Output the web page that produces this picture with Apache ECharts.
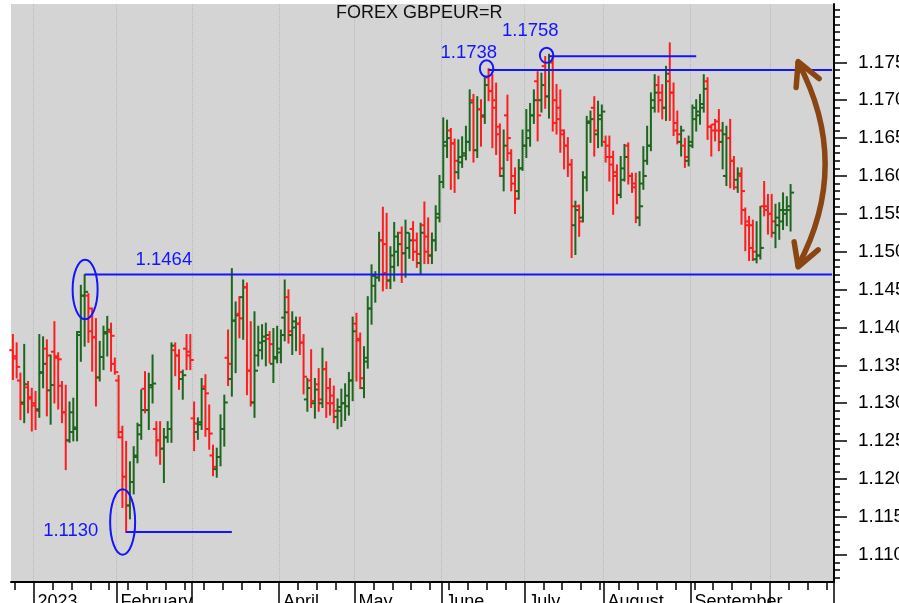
<!DOCTYPE html>
<html><head><meta charset="utf-8">
<script src="https://cdn.jsdelivr.net/npm/echarts@6/dist/echarts.min.js"></script>
<style>html,body{margin:0;padding:0;background:#fff;overflow:hidden}#c{width:899px;height:603px}</style>
</head><body><div id="c"></div>
<script>
// ---------- data (GBPEUR daily bars, Dec 23 2022 .. Oct 9 2023) ----------
const opens = [
1.1370,1.1362,1.1330,1.1301,1.1321,1.1308,1.1300,1.1292,1.1340,1.1372,
1.1317,1.1368,1.1362,1.1323,1.1288,1.1251,1.1262,1.1266,1.1394,1.1442,
1.1442,1.1395,1.1387,1.1334,1.1361,1.1392,1.1394,1.1352,1.1330,1.1255,
1.1203,1.1165,1.1196,1.1229,1.1271,1.1319,1.1291,1.1321,1.1266,1.1251,
1.1240,1.1255,1.1266,1.1370,1.1363,1.1332,1.1372,1.1368,1.1280,1.1262,
1.1275,1.1322,1.1266,1.1231,1.1213,1.1229,1.1266,1.1360,1.1332,1.1409,
1.1418,1.1440,1.1453,1.1343,1.1301,1.1363,1.1380,1.1382,1.1385,1.1352,
1.1359,1.1372,1.1413,1.1440,1.1390,1.1400,1.1405,1.1380,1.1305,1.1330,
1.1300,1.1325,1.1300,1.1345,1.1320,1.1310,1.1282,1.1290,1.1300,1.1296,
1.1330,1.1405,1.1385,1.1320,1.1355,1.1425,1.1455,1.1466,1.1515,1.1510,
1.1462,1.1480,1.1500,1.1525,1.1498,1.1505,1.1530,1.1515,1.1485,1.1535,
1.1520,1.1495,1.1515,1.1550,1.1592,1.1640,1.1660,1.1643,1.1605,1.1618,
1.1627,1.1645,1.1700,1.1634,1.1688,1.1680,1.1730,1.1712,1.1700,1.1665,
1.1600,1.1680,1.1630,1.1600,1.1580,1.1610,1.1640,1.1650,1.1680,1.1725,
1.1700,1.1745,1.1705,1.1750,1.1700,1.1690,1.1655,1.1640,1.1615,1.1535,
1.1560,1.1545,1.1598,1.1670,1.1690,1.1655,1.1675,1.1645,1.1640,1.1625,
1.1600,1.1575,1.1595,1.1640,1.1600,1.1590,1.1545,1.1590,1.1620,1.1640,
1.1690,1.1720,1.1710,1.1690,1.1725,1.1710,1.1670,1.1645,1.1640,1.1620,
1.1645,1.1675,1.1680,1.1695,1.1725,1.1665,1.1668,1.1672,1.1645,1.1600,
1.1650,1.1620,1.1595,1.1600,1.1555,1.1540,1.1535,1.1490,1.1495,1.1560,
1.1560,1.1550,1.1525,1.1535,1.1540,1.1550,1.1555];
const highs = [
1.1390,1.1379,1.1339,1.1377,1.1328,1.1319,1.1315,1.1390,1.1387,1.1383,
1.1363,1.1407,1.1366,1.1328,1.1323,1.1301,1.1306,1.1394,1.1455,1.1469,
1.1444,1.1425,1.1411,1.1381,1.1401,1.1414,1.1405,1.1359,1.1336,1.1269,
1.1249,1.1222,1.1242,1.1273,1.1317,1.1341,1.1339,1.1363,1.1275,1.1275,
1.1266,1.1275,1.1379,1.1379,1.1370,1.1343,1.1390,1.1390,1.1301,1.1280,
1.1332,1.1337,1.1297,1.1244,1.1240,1.1284,1.1310,1.1396,1.1477,1.1433,
1.1440,1.1462,1.1458,1.1407,1.1420,1.1401,1.1403,1.1405,1.1394,1.1398,
1.1401,1.1396,1.1462,1.1449,1.1420,1.1413,1.1413,1.1390,1.1332,1.1370,
1.1332,1.1345,1.1372,1.1354,1.1332,1.1322,1.1305,1.1318,1.1325,1.1340,
1.1413,1.1418,1.1392,1.1374,1.1440,1.1482,1.1473,1.1525,1.1558,1.1550,
1.1506,1.1538,1.1525,1.1532,1.1541,1.1524,1.1539,1.1524,1.1537,1.1565,
1.1544,1.1524,1.1560,1.1600,1.1676,1.1673,1.1662,1.1648,1.1647,1.1651,
1.1665,1.1713,1.1707,1.1704,1.1700,1.1730,1.1741,1.1733,1.1722,1.1668,
1.1660,1.1706,1.1634,1.1610,1.1621,1.1660,1.1687,1.1695,1.1713,1.1737,
1.1735,1.1757,1.1760,1.1757,1.1720,1.1713,1.1660,1.1650,1.1621,1.1566,
1.1561,1.1605,1.1678,1.1685,1.1704,1.1698,1.1693,1.1652,1.1652,1.1632,
1.1614,1.1625,1.1641,1.1643,1.1603,1.1603,1.1605,1.1638,1.1665,1.1709,
1.1733,1.1731,1.1720,1.1744,1.1775,1.1722,1.1685,1.1665,1.1649,1.1652,
1.1693,1.1700,1.1707,1.1733,1.1729,1.1667,1.1674,1.1687,1.1670,1.1665,
1.1674,1.1625,1.1610,1.1610,1.1557,1.1546,1.1541,1.1539,1.1559,1.1592,
1.1575,1.1575,1.1562,1.1564,1.1577,1.1572,1.1588];
const lows = [
1.1332,1.1334,1.1279,1.1275,1.1288,1.1264,1.1266,1.1282,1.1321,1.1284,
1.1273,1.1301,1.1293,1.1275,1.1213,1.1249,1.1251,1.1251,1.1356,1.1376,
1.1381,1.1343,1.1297,1.1330,1.1345,1.1363,1.1343,1.1339,1.1255,1.1163,
1.1130,1.1148,1.1181,1.1222,1.1253,1.1288,1.1266,1.1301,1.1231,1.1220,
1.1196,1.1249,1.1249,1.1337,1.1319,1.1306,1.1345,1.1345,1.1238,1.1253,
1.1266,1.1257,1.1240,1.1205,1.1203,1.1218,1.1244,1.1324,1.1310,1.1341,
1.1387,1.1385,1.1312,1.1297,1.1282,1.1350,1.1359,1.1350,1.1354,1.1328,
1.1354,1.1354,1.1383,1.1380,1.1365,1.1370,1.1365,1.1313,1.1290,1.1295,
1.1281,1.1290,1.1295,1.1282,1.1285,1.1275,1.1267,1.1270,1.1278,1.1285,
1.1304,1.1330,1.1320,1.1308,1.1347,1.1405,1.1434,1.1462,1.1449,1.1452,
1.1452,1.1462,1.1482,1.1460,1.1467,1.1492,1.1489,1.1480,1.1471,1.1485,
1.1485,1.1485,1.1502,1.1540,1.1585,1.1625,1.1583,1.1579,1.1597,1.1612,
1.1622,1.1634,1.1619,1.1625,1.1640,1.1670,1.1700,1.1638,1.1629,1.1600,
1.1581,1.1621,1.1581,1.1551,1.1570,1.1608,1.1625,1.1640,1.1670,1.1647,
1.1685,1.1690,1.1677,1.1660,1.1656,1.1632,1.1610,1.1600,1.1493,1.1497,
1.1521,1.1540,1.1581,1.1645,1.1627,1.1638,1.1640,1.1619,1.1594,1.1550,
1.1564,1.1572,1.1594,1.1590,1.1579,1.1539,1.1535,1.1583,1.1616,1.1634,
1.1685,1.1685,1.1676,1.1674,1.1674,1.1654,1.1643,1.1627,1.1612,1.1614,
1.1638,1.1660,1.1669,1.1685,1.1649,1.1627,1.1647,1.1634,1.1610,1.1588,
1.1585,1.1583,1.1579,1.1537,1.1502,1.1489,1.1489,1.1486,1.1491,1.1548,
1.1524,1.1520,1.1506,1.1517,1.1530,1.1535,1.1528];
const closes = [
1.1359,1.1348,1.1299,1.1325,1.1306,1.1297,1.1290,1.1341,1.1352,1.1363,
1.1324,1.1360,1.1358,1.1288,1.1251,1.1288,1.1268,1.1390,1.1442,1.1447,
1.1425,1.1387,1.1334,1.1361,1.1394,1.1397,1.1389,1.1341,1.1262,1.1203,
1.1165,1.1196,1.1231,1.1259,1.1291,1.1291,1.1324,1.1326,1.1251,1.1240,
1.1255,1.1266,1.1376,1.1363,1.1341,1.1337,1.1363,1.1357,1.1273,1.1272,
1.1319,1.1313,1.1260,1.1216,1.1229,1.1266,1.1301,1.1352,1.1409,1.1416,
1.1412,1.1453,1.1343,1.1301,1.1343,1.1370,1.1388,1.1390,1.1378,1.1361,
1.1367,1.1390,1.1420,1.1395,1.1408,1.1405,1.1380,1.1335,1.1320,1.1303,
1.1318,1.1305,1.1345,1.1300,1.1300,1.1290,1.1295,1.1300,1.1310,1.1330,
1.1395,1.1383,1.1333,1.1360,1.1425,1.1468,1.1466,1.1515,1.1472,1.1462,
1.1495,1.1520,1.1510,1.1498,1.1525,1.1515,1.1500,1.1497,1.1525,1.1500,
1.1495,1.1515,1.1545,1.1592,1.1645,1.1650,1.1643,1.1620,1.1625,1.1630,
1.1645,1.1697,1.1634,1.1688,1.1678,1.1720,1.1712,1.1690,1.1655,1.1610,
1.1640,1.1650,1.1590,1.1570,1.1610,1.1640,1.1660,1.1680,1.1700,1.1680,
1.1720,1.1705,1.1750,1.1670,1.1675,1.1660,1.1640,1.1615,1.1560,1.1555,
1.1540,1.1598,1.1672,1.1675,1.1660,1.1680,1.1685,1.1625,1.1615,1.1605,
1.1575,1.1610,1.1625,1.1600,1.1585,1.1545,1.1560,1.1600,1.1640,1.1700,
1.1710,1.1700,1.1690,1.1735,1.1710,1.1660,1.1655,1.1660,1.1625,1.1640,
1.1690,1.1685,1.1690,1.1715,1.1665,1.1660,1.1660,1.1660,1.1655,1.1650,
1.1620,1.1585,1.1603,1.1580,1.1535,1.1505,1.1500,1.1495,1.1505,1.1555,
1.1550,1.1540,1.1545,1.1555,1.1555,1.1560,1.1578];

// y-axis tick labels
const yMajorTicks = [1.110,1.115,1.120,1.125,1.130,1.135,1.140,1.145,1.150,1.155,1.160,1.165,1.170,1.175];
// month label per month number (March / October not printed on the original)
const monthLabels = {1:'2023', 2:'February', 4:'April', 5:'May', 6:'June', 7:'July', 8:'August', 9:'September'};
// annotated levels: text, drawn level, bar index where line starts, bar index where it ends
const levelText  = ['1.1464', '1.1130', '1.1738', '1.1758'];
const levelValue = [1.1470, 1.1130, 1.1740, 1.1758];
const levelFrom  = [19, 30, 126, 142];
const levelTo    = [217, 58, 217, 181];
// arrow between support and resistance (bar index, top value, bottom value)
const arrowAt = [208, 1.1751, 1.1480];

// ---------- axis categories: weekdays ----------
const NSLOTS = 218;
const dates = [];
{ let t = Date.UTC(2022, 11, 23);
  while (dates.length < NSLOTS) { const d = new Date(t); const wd = d.getUTCDay();
    if (wd !== 0 && wd !== 6) dates.push(d.toISOString().slice(0, 10)); t += 86400000; } }
const isMonthStart = i => i > 0 && dates[i].slice(5, 7) !== dates[i - 1].slice(5, 7);
const isMonday = i => new Date(dates[i] + 'T00:00:00Z').getUTCDay() === 1;
const monthNo = i => parseInt(dates[i].slice(5, 7), 10);

const minorTicks = [];
for (let k = 1107; k <= 1182; k++) minorTicks.push(k / 1000);

const GREEN = '#1d661d', RED = '#ff1c1c', BLUE = '#1414ff', BROWN = '#8b4513';
const FONT = '"Liberation Sans", Arial, sans-serif';

const barData = opens.map((o, i) => [i, o, highs[i], lows[i], closes[i]]);

function renderOHLC(params, api) {
  const i = api.value(0);
  const o = api.value(1), h = api.value(2), l = api.value(3), c = api.value(4);
  const pO = api.coord([i, o]), pH = api.coord([i, h]), pL = api.coord([i, l]), pC = api.coord([i, c]);
  const col = c >= o ? GREEN : RED;
  const x = pH[0];
  const st = { stroke: col, lineWidth: 2 };
  return { type: 'group', children: [
    { type: 'line', shape: { x1: x, y1: pH[1] - 1, x2: x, y2: pL[1] + 1 }, style: st },
    { type: 'line', shape: { x1: x - 3.5, y1: pO[1], x2: x, y2: pO[1] }, style: st },
    { type: 'line', shape: { x1: x, y1: pC[1], x2: x + 3.5, y2: pC[1] }, style: st }
  ]};
}

const levelSeries = levelText.map((t, k) => ({
  type: 'line', xAxisIndex: 0, yAxisIndex: 0, symbol: 'none', silent: true, z: 5,
  lineStyle: { color: BLUE, width: 2 },
  data: [[dates[levelFrom[k]], levelValue[k]], [dates[levelTo[k]], levelValue[k]]]
}));

const chart = echarts.init(document.getElementById('c'), null, { renderer: 'canvas' });
const YMIN = 1.1064, YMAX = 1.1827;
chart.setOption({
  animation: false,
  backgroundColor: '#ffffff',
  title: { text: 'FOREX GBPEUR=R', left: 336, top: 4, padding: 0,
    textStyle: { fontSize: 18, fontWeight: 'normal', color: '#111', fontFamily: FONT } },
  grid: { left: 11, right: 65, top: 4, bottom: 21, show: true, backgroundColor: '#d4d4d4',
    borderWidth: 0, containLabel: false, outerBoundsMode: 'none' },
  xAxis: [{
    type: 'category', data: dates, boundaryGap: true, position: 'bottom',
    axisLine: { show: true, onZero: false, lineStyle: { color: '#000', width: 2 } },
    axisTick: { show: true, length: 22, interval: (i) => isMonthStart(i), lineStyle: { color: '#000', width: 1.5 } },
    axisLabel: { show: true, interval: (i) => isMonthStart(i) && !!monthLabels[monthNo(i)],
      formatter: (v, i) => monthLabels[parseInt(v.slice(5, 7), 10)] || '',
      align: 'left', padding: [0, 0, 0, 2], margin: 11, fontSize: 18, color: '#000', fontFamily: FONT },
    splitLine: { show: true, interval: (i) => isMonthStart(i), lineStyle: { color: '#b9b9b9', width: 1, type: 'dotted' } }
  }, {
    type: 'category', data: dates, boundaryGap: true, position: 'bottom',
    axisLine: { show: false },
    axisTick: { show: true, length: 8, interval: (i) => isMonday(i), lineStyle: { color: '#000', width: 1.5 } },
    axisLabel: { show: false }, splitLine: { show: false }
  }],
  yAxis: [{
    type: 'value', position: 'right', min: YMIN, max: YMAX, scale: true, splitNumber: 15,
    axisLine: { show: true, lineStyle: { color: '#000', width: 2 } },
    axisTick: { show: true, length: 13, customValues: yMajorTicks, lineStyle: { color: '#000', width: 1.5 } },
    axisLabel: { show: true, customValues: yMajorTicks, margin: 24, fontSize: 19, color: '#000', fontFamily: FONT,
      formatter: v => v.toFixed(3) },
    splitLine: { show: false }
  }, {
    type: 'value', position: 'right', min: YMIN, max: YMAX, scale: true,
    axisLine: { show: false },
    axisTick: { show: true, length: 6, customValues: minorTicks, lineStyle: { color: '#000', width: 1.5 } },
    axisLabel: { show: false }, splitLine: { show: false }
  }],
  series: [{
    type: 'custom', xAxisIndex: 0, yAxisIndex: 0, renderItem: renderOHLC,
    encode: { x: 0, y: [1, 2, 3, 4] }, data: barData, z: 2, clip: false
  }].concat(levelSeries)
});

// ---------- annotations placed from data coordinates ----------
const px = (i, v) => chart.convertToPixel({ xAxisIndex: 0, yAxisIndex: 0 }, [i, v]);
const g = [];
const textOff = [[51, -15], [-83, -1.5], [-48, -16.5], [-47, -25]];
const ellOff  = [[0.5, 15, 12.5, 29.8], [-3.5, -10, 12.5, 32.7], [-2, -1.4, 6.7, 8.3], [-2.4, -1, 6.7, 7.5]];
levelText.forEach((t, k) => {
  const p = px(levelFrom[k], levelValue[k]);
  g.push({ type: 'text', x: p[0] + textOff[k][0], y: p[1] + textOff[k][1], z: 10,
    style: { text: t, fill: BLUE, font: '18.5px ' + FONT, textAlign: 'left', textVerticalAlign: 'middle' } });
  g.push({ type: 'ellipse', z: 10,
    shape: { cx: p[0] + ellOff[k][0], cy: p[1] + ellOff[k][1], rx: ellOff[k][2], ry: ellOff[k][3] },
    style: { fill: null, stroke: BLUE, lineWidth: 2 } });
});
const aT = px(arrowAt[0], arrowAt[1]), aB = px(arrowAt[0], arrowAt[2]);
const arrowStyle = { fill: null, stroke: BROWN, lineWidth: 5.5, lineCap: 'round', lineJoin: 'round' };
g.push({ type: 'bezierCurve', z: 11, shape: { x1: aT[0], y1: aT[1] + 1, x2: aB[0], y2: aB[1] - 1,
  cpx1: aT[0] + 54, cpy1: (aT[1] + aB[1]) / 2 }, style: arrowStyle });
g.push({ type: 'polyline', z: 11, shape: { points: [[aT[0] - 2, aT[1] + 26], [aT[0], aT[1]], [aT[0] + 21, aT[1] + 17]] }, style: arrowStyle });
g.push({ type: 'polyline', z: 11, shape: { points: [[aB[0] - 4, aB[1] - 25], [aB[0], aB[1]], [aB[0] + 20, aB[1] - 17]] }, style: arrowStyle });
chart.setOption({ graphic: g });
</script>
</body></html>
